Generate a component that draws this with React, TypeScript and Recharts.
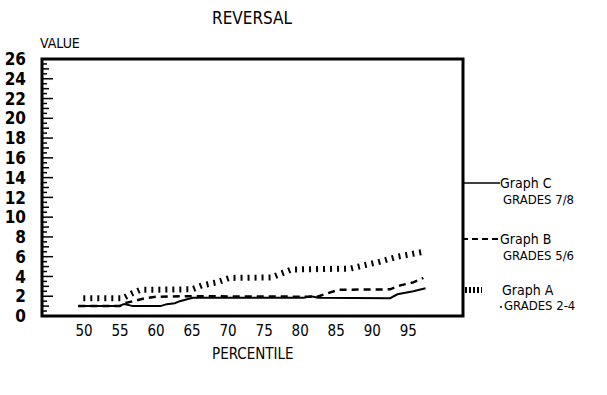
import React from 'react';
import { LineChart, Line, XAxis, YAxis, ReferenceArea } from 'recharts';

// percentile / value pairs
const graphCPercentile = [49.2, 54.8, 55.6, 56.8, 60.6, 61.5, 62.6, 63.3, 64.3, 65.1, 80.5, 81.5, 82.5, 92.5, 93.5, 95.7, 97.4];
const graphCValue = [1.0, 1.0, 1.2, 1.0, 1.0, 1.2, 1.3, 1.5, 1.7, 1.85, 1.85, 2.0, 1.85, 1.8, 2.2, 2.5, 2.8];

const graphBPercentile = [49.2, 55, 55.7, 56.8, 58.5, 60.1, 64, 82.4, 83.8, 85.3, 92.5, 93.9, 95.7, 97.1];
const graphBValue = [1.0, 1.0, 1.3, 1.5, 1.8, 1.95, 2.0, 1.95, 2.3, 2.65, 2.7, 3.1, 3.4, 3.85];

const graphAPercentile = [49.9, 55.4, 56.7, 57.8, 65, 66.4, 68.4, 70.2, 76, 77.4, 78.8, 87, 88.4, 91.1, 93.5, 95.7, 97.1];
const graphAValue = [1.8, 1.8, 2.3, 2.65, 2.7, 3.1, 3.4, 3.85, 3.9, 4.3, 4.7, 4.8, 5.05, 5.5, 6.0, 6.3, 6.5];

const xTicks = [50, 55, 60, 65, 70, 75, 80, 85, 90, 95];
const yLabels = [0, 2, 4, 6, 8, 10, 12, 14, 16, 18, 20, 22, 24, 26];
const yMinorTicks = Array.from({ length: 53 }, (_, i) => i * 0.5);

const toRows = (p: number[], v: number[]) => p.map((x, i) => ({ p: x, v: v[i] }));
const graphC = toRows(graphCPercentile, graphCValue);
const graphB = toRows(graphBPercentile, graphBValue);
const graphA = toRows(graphAPercentile, graphAValue);

const FONT = '"DejaVu Sans Condensed", "DejaVu Sans", sans-serif';

const YTick = (props: any) => {
  const { x, y, payload } = props;
  const v = payload.value;
  const len = v % 2 === 0 ? 11 : v % 1 === 0 ? 7 : 5;
  return (
    <g>
      <line x1={x} x2={x + len} y1={y} y2={y} stroke="#000" strokeWidth={1.5} />
      {yLabels.includes(v) && (
        <text x={x - 16} y={y} dy="0.36em" textAnchor="end" fontFamily={FONT} fontWeight="bold" fontSize={17} fill="#000">
          {v}
        </text>
      )}
    </g>
  );
};

const abs = (left: number, top: number, extra: React.CSSProperties = {}): React.CSSProperties => ({
  position: 'absolute', left, top, lineHeight: 1, whiteSpace: 'nowrap', ...extra,
});

export default function App() {
  return (
    <div style={{ position: 'absolute', left: 0, top: 0, width: 607, height: 395, background: '#fff', fontFamily: FONT, color: '#000' }}>
      <LineChart width={607} height={395} data={graphC} margin={{ top: 59, right: 144, bottom: 49, left: 0 }}>
        <XAxis
          dataKey="p"
          type="number"
          domain={[44.17, 102.6]}
          allowDataOverflow
          ticks={xTicks}
          interval={0}
          axisLine={false}
          tickLine={false}
          tickSize={0}
          tickMargin={9}
          height={30}
          tick={{ fill: '#000', fontSize: 15, fontFamily: FONT }}
        />
        <YAxis
          type="number"
          domain={[0, 26]}
          ticks={yMinorTicks}
          interval={0}
          width={42}
          axisLine={false}
          tickLine={false}
          tickSize={0}
          tickMargin={0}
          tick={<YTick />}
        />
        <ReferenceArea x1={44.17} x2={102.6} y1={0} y2={26} fill="none" stroke="#000" strokeWidth={3} ifOverflow="visible" />
        <Line data={graphC} dataKey="v" stroke="#000" strokeWidth={2} dot={false} isAnimationActive={false} />
        <Line data={graphB} dataKey="v" stroke="#000" strokeWidth={2.5} strokeDasharray="7 5" dot={false} isAnimationActive={false} />
        <Line data={graphA} dataKey="v" stroke="#000" strokeWidth={6} strokeDasharray="2 5" strokeLinecap="butt" dot={false} isAnimationActive={false} />
      </LineChart>

      <div style={abs(212, 10, { fontSize: 17 })}>REVERSAL</div>
      <div style={abs(40, 36, { fontSize: 14 })}>VALUE</div>
      <div style={abs(212, 347, { fontSize: 15 })}>PERCENTILE</div>

      <svg width={50} height={140} style={{ position: 'absolute', left: 460, top: 176 }}>
        <line x1={2} x2={40} y1={7} y2={7} stroke="#000" strokeWidth={1.5} />
        <line x1={2} x2={40} y1={63} y2={63} stroke="#000" strokeWidth={2} strokeDasharray="6 4" />
        <line x1={5} x2={22} y1={114} y2={114} stroke="#000" strokeWidth={6} strokeDasharray="2 2" />
        <circle cx={41} cy={131} r={1} fill="#000" />
      </svg>
      <div style={abs(500, 176, { fontSize: 14 })}>Graph C</div>
      <div style={abs(503, 193, { fontSize: 13 })}>GRADES 7/8</div>
      <div style={abs(500, 232, { fontSize: 14 })}>Graph B</div>
      <div style={abs(503, 249, { fontSize: 13 })}>GRADES 5/6</div>
      <div style={abs(502, 283, { fontSize: 14 })}>Graph A</div>
      <div style={abs(504, 299, { fontSize: 13 })}>GRADES 2-4</div>
    </div>
  );
}
